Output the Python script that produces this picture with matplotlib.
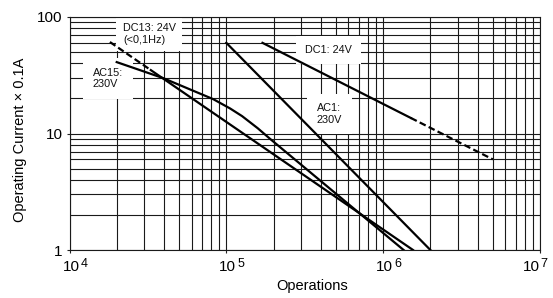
import matplotlib
matplotlib.use('Agg')
import matplotlib.pyplot as plt
from matplotlib.ticker import LogLocator, NullFormatter, FixedLocator

plt.rcParams['font.family'] = ['Liberation Sans', 'DejaVu Sans']

# ---- data ----
xticks = [1e4, 1e5, 1e6, 1e7]
xtick_exp = ['4', '5', '6', '7']
yticks = [1, 10, 100]
ytick_labels = ['1', '10', '100']

ac1_x = [1.0e5, 2.0e6]
ac1_y = [60, 1]

dc1_solid_x = [1.7e5, 1.5e6]
dc1_solid_y = [60, 13.6]
dc1_dash_x = [1.5e6, 5.0e6]
dc1_dash_y = [13.6, 6.0]

ac15_x = [2.0e4, 3.95e4, 8.26e4, 1.057e5, 1.26e5, 1.585e5, 1.9e5, 1.35e6]
ac15_y = [41, 29.9, 19.7, 16.4, 14.1, 11.1, 9.0, 1.0]

dc13_dash_x = [1.81e4, 3.3e4]
dc13_dash_y = [61, 35]
dc13_solid_x = [3.3e4, 1.55e6]
dc13_solid_y = [35, 1]

labels = [
    ("DC13: 24V\n(<0,1Hz)", 2.19e4, 71.5, 0.6),
    ("AC15:\n230V", 1.41e4, 29.8, 0.9),
    ("DC1: 24V", 3.18e5, 52.2, 0.8),
    ("AC1:\n230V", 3.78e5, 14.7, 0.9),
]

# ---- figure ----
fig = plt.figure(figsize=(5.53, 2.98), dpi=100)
ax = fig.add_axes([69.5/553, 1-250/298, 470.5/553, 233/298])
ax.set_xscale('log')
ax.set_yscale('log')
ax.set_xlim(xticks[0], xticks[-1])
ax.set_ylim(yticks[0], yticks[-1])

ax.xaxis.set_major_locator(FixedLocator(xticks))
ax.yaxis.set_major_locator(FixedLocator(yticks))
ax.xaxis.set_minor_locator(LogLocator(base=10, subs=range(2, 10)))
ax.yaxis.set_minor_locator(LogLocator(base=10, subs=range(2, 10)))
ax.xaxis.set_minor_formatter(NullFormatter())
ax.yaxis.set_minor_formatter(NullFormatter())
ax.set_yticklabels(ytick_labels)
ax.set_xticklabels([''] * len(xticks))
ax.tick_params(which='major', direction='out', length=2.3, width=0.8,
               color='#222222', labelsize=11, pad=2.5)
ax.tick_params(which='minor', length=0)

ax.set_axisbelow(True)
ax.grid(True, which='both', color='#1a1a1a', linewidth=0.8)
for s in ax.spines.values():
    s.set_color('#1a1a1a')
    s.set_linewidth(0.8)

# manual x tick labels "10" + superscript
for xv, e in zip(xticks, xtick_exp):
    dx = -9 if e == '7' else 1.5
    ax.annotate('10', xy=(xv, 0), xycoords=('data', 'axes fraction'),
                xytext=(dx, -10), textcoords='offset pixels',
                ha='center', va='top', fontsize=11)
    ax.annotate(e, xy=(xv, 0), xycoords=('data', 'axes fraction'),
                xytext=(dx + 9.5, -8), textcoords='offset pixels',
                ha='left', va='top', fontsize=9)

lw = 1.6
dash = (3, 1.5)
ax.plot(ac1_x, ac1_y, color='black', lw=lw, zorder=3)
ax.plot(dc1_solid_x, dc1_solid_y, color='black', lw=lw, zorder=3)
ax.plot(dc1_dash_x, dc1_dash_y, color='black', lw=lw, zorder=3,
        dashes=dash, dash_capstyle='butt')
ax.plot(ac15_x, ac15_y, color='black', lw=lw, zorder=3,
        solid_joinstyle='round')
ax.plot(dc13_dash_x, dc13_dash_y, color='black', lw=lw, zorder=3,
        dashes=dash, dash_capstyle='butt')
ax.plot(dc13_solid_x, dc13_solid_y, color='black', lw=lw, zorder=3)

for txt, x, y, pad in labels:
    ax.text(x, y, txt, ha='left', va='center', fontsize=7.8, linespacing=1.15,
            color='#111111', zorder=1.5,
            bbox=dict(boxstyle='square,pad=%g' % pad, facecolor='white',
                      edgecolor='none'))

ax.set_xlabel('Operations', fontsize=10.5)
ax.xaxis.set_label_coords(0.5165, -0.125)
ax.set_ylabel('Operating Current × 0.1A', fontsize=10.5)
ax.yaxis.set_label_coords(-0.090, 0.472)

fig.savefig('out.png', dpi=100)
